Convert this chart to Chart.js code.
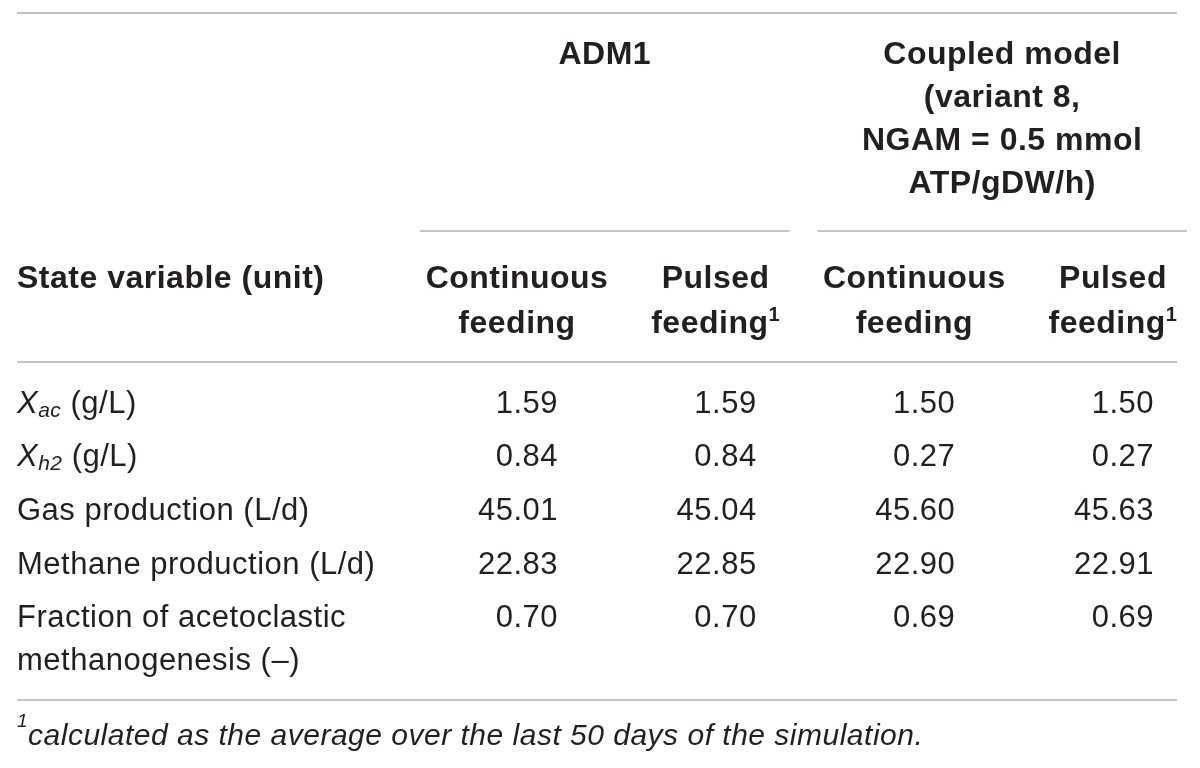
<!DOCTYPE html>
<html>
<head>
<meta charset="utf-8">
<title>ADM1 vs coupled model</title>
<script src="https://cdn.jsdelivr.net/npm/chart.js@4.4.0/dist/chart.umd.min.js"></script>
<style>
    html, body { margin: 0; padding: 0; background: #fff; }
    #wrap { width: 1200px; height: 768px; }
</style>
</head>
<body>
<div id="wrap"><canvas id="tableChart" width="1200" height="768"></canvas></div>
<script>
// Rows (state variables)
var stateVariables = ['Xac (g/L)', 'Xh2 (g/L)', 'Gas production (L/d)', 'Methane production (L/d)', 'Fraction of acetoclastic methanogenesis (\u2013)'];

// Values per column
var adm1Continuous = [1.59, 0.84, 45.01, 22.83, 0.70];
var adm1Pulsed = [1.59, 0.84, 45.04, 22.85, 0.70];
var coupledContinuous = [1.50, 0.27, 45.60, 22.90, 0.69];
var coupledPulsed = [1.50, 0.27, 45.63, 22.91, 0.69];

// Header texts
var stubHeader = 'State variable (unit)';
var feedingModes = [['Continuous', 'feeding'], ['Pulsed', 'feeding\u00b9'], ['Continuous', 'feeding'], ['Pulsed', 'feeding\u00b9']];
var groupHeaders = [['ADM1'], ['Coupled model', '(variant 8,', 'NGAM = 0.5 mmol', 'ATP/gDW/h)']];
var groupColumns = [[0, 1], [2, 3]];
var footnote = '\u00b9calculated as the average over the last 50 days of the simulation.';

var seriesList = [adm1Continuous, adm1Pulsed, coupledContinuous, coupledPulsed];
var seriesNames = ['ADM1 continuous', 'ADM1 pulsed', 'Coupled continuous', 'Coupled pulsed'];

var FONT = '"Liberation Sans", Arial, sans-serif';
var INK = '#231f20';
var RULE = '#c4c4c4';

function setFont(c, size, weight, style) {
    c.font = (style || 'normal') + ' ' + (weight || 'normal') + ' ' + size + 'px ' + FONT;
}

function runsWidth(c, runs) {
    var w = 0;
    runs.forEach(function (r) {
        setFont(c, r.size, r.weight, r.style);
        w += c.measureText(r.t).width;
    });
    return w;
}

function drawRuns(c, runs, x, y, align) {
    var w = runsWidth(c, runs);
    var cx = align === 'center' ? x - w / 2 : (align === 'right' ? x - w : x);
    c.textAlign = 'left';
    runs.forEach(function (r) {
        setFont(c, r.size, r.weight, r.style);
        c.fillText(r.t, cx, y + (r.dy || 0));
        cx += c.measureText(r.t).width;
    });
}

// split text on the superscript one
function supRuns(text, size, weight, style, raise) {
    var runs = [];
    text.split(/(\u00b9)/).forEach(function (p) {
        if (!p) return;
        if (p === '\u00b9') {
            runs.push({ t: '1', size: Math.round(size * 0.62), weight: weight, style: style, dy: -size * (raise || 0.36) });
        } else {
            runs.push({ t: p, size: size, weight: weight, style: style });
        }
    });
    return runs;
}

// row label -> lines of runs (italic X with subscript, or word wrapped)
function labelLines(c, label, maxW) {
    var m = label.match(/^X(\S+)(.*)$/);
    if (m) {
        return [[
            { t: 'X', size: 31, style: 'italic' },
            { t: m[1], size: 21, style: 'italic', dy: 4 },
            { t: m[2], size: 31 }
        ]];
    }
    setFont(c, 31);
    var words = label.split(' ');
    var lines = [];
    var cur = '';
    words.forEach(function (w) {
        var test = cur ? cur + ' ' + w : w;
        if (cur && c.measureText(test).width > maxW) {
            lines.push(cur);
            cur = w;
        } else {
            cur = test;
        }
    });
    lines.push(cur);
    return lines.map(function (l) { return [{ t: l, size: 31 }]; });
}

function rule(c, x1, x2, y) {
    c.save();
    c.fillStyle = RULE;
    c.fillRect(x1, y - 1, x2 - x1, 2);
    c.restore();
}

var tablePlugin = {
    id: 'tableText',
    afterDraw: function (chart) {
        var c = chart.ctx;
        var xs = chart.scales.x;
        var ys = chart.scales.y;
        var left = 17, right = 1177;

        c.save();
        c.fillStyle = INK;
        c.textBaseline = 'alphabetic';
        c.letterSpacing = '0.5px';

        // horizontal rules
        rule(c, left, right, 13);
        rule(c, left, right, 362);
        rule(c, left, right, 700);

        // group headers with their spanning rules
        groupHeaders.forEach(function (lines, g) {
            var x1 = xs.getPixelForValue(groupColumns[g][0]) - 97;
            var x2 = xs.getPixelForValue(groupColumns[g][1]) + 74;
            lines.forEach(function (line, j) {
                drawRuns(c, supRuns(line, 32, 'bold'), (x1 + x2) / 2, 64 + j * 43, 'center');
            });
            rule(c, x1, x2, 231);
        });

        // stub + column headers
        drawRuns(c, supRuns(stubHeader, 32, 'bold'), left, 288, 'left');
        feedingModes.forEach(function (lines, k) {
            var x = xs.getPixelForValue(k);
            lines.forEach(function (line, j) {
                drawRuns(c, supRuns(line, 32, 'bold'), x, 288 + j * 45, 'center');
            });
        });

        // row labels
        stateVariables.forEach(function (label, i) {
            var y = ys.getPixelForValue(i) + 11;
            labelLines(c, label, 385).forEach(function (runs, j) {
                drawRuns(c, runs, left, y + j * 43, 'left');
            });
        });

        // cell values, placed at each point of the datasets
        chart.data.datasets.forEach(function (ds, k) {
            chart.getDatasetMeta(k).data.forEach(function (pt, i) {
                drawRuns(c, [{ t: ds.data[i].v.toFixed(2), size: 31 }], pt.x + 41, pt.y + 11, 'right');
            });
        });

        // footnote
        drawRuns(c, supRuns(footnote, 30, 'normal', 'italic', 0.6), left, 745, 'left');

        c.restore();
    }
};

var ctx = document.getElementById('tableChart').getContext('2d');
var tableChart = new Chart(ctx, {
    type: 'scatter',
    data: {
        labels: stateVariables,
        datasets: seriesList.map(function (vals, k) {
            return {
                label: seriesNames[k],
                data: vals.map(function (v, i) { return { x: k, y: stateVariables[i], v: v }; }),
                pointRadius: 0,
                pointHoverRadius: 0
            };
        })
    },
    options: {
        responsive: false,
        animation: false,
        events: [],
        layout: { padding: { left: 517, right: 87, top: 375, bottom: 125 } },
        scales: {
            x: { type: 'linear', min: 0, max: 3, display: false },
            y: { type: 'category', labels: stateVariables, offset: true, display: false }
        },
        plugins: {
            legend: { display: false },
            tooltip: { enabled: false }
        }
    },
    plugins: [tablePlugin]
});
</script>
</body>
</html>
